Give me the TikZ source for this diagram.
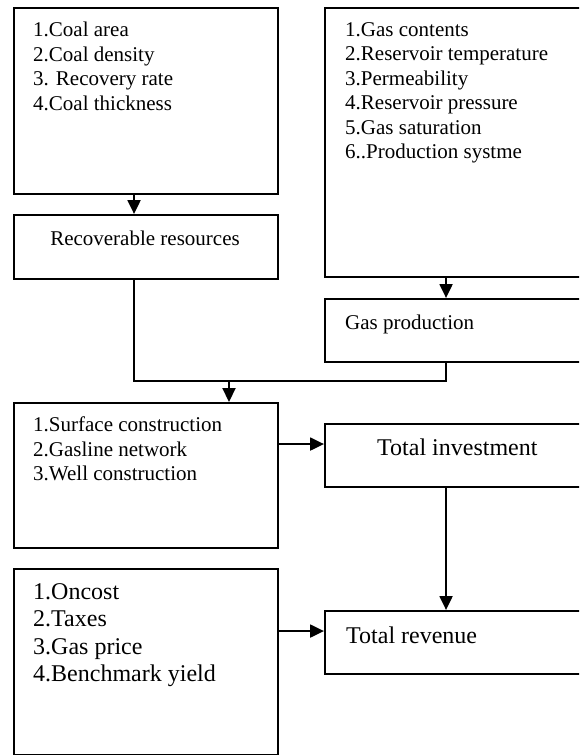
\documentclass[tikz,border=0pt]{standalone}
\usepackage{fontspec}
\setmainfont{Liberation Serif}
\usetikzlibrary{arrows.meta,positioning}

\tikzset{
  box/.style={draw, line width=2.1pt, anchor=north west, inner sep=0pt},
  list/.style={anchor=north west, align=left, inner sep=0pt, font=\fontsize{21}{24.5}\selectfont},
  biglist/.style={list, font=\fontsize{24}{27.5}\selectfont},
  title/.style={inner sep=0pt, font=\fontsize{21}{24.5}\selectfont},
  bigtitle/.style={inner sep=0pt, font=\fontsize{24}{27.5}\selectfont},
  flow/.style={line width=2.1pt, -{Triangle[length=14pt,width=13pt]}},
  joint/.style={line width=2.1pt},
}

\begin{document}
\begin{tikzpicture}[x=1pt,y=-1pt]
\useasboundingbox (0,0) rectangle (579,755);
\clip (0,0) rectangle (579,755);

% frames (the right column runs off the page)
\node[box, minimum width=264pt, minimum height=186pt] (coal) at (13,7) {};
\node[box, minimum width=264pt, minimum height=64pt] (recov) at (13,214) {};
\node[box, minimum width=300pt, minimum height=269pt] (gas) at (324,7) {};
\node[box, minimum width=300pt, minimum height=63pt] (prod) at (324,298) {};
\node[box, minimum width=264pt, minimum height=145pt] (surf) at (13,402) {};
\node[box, minimum width=300pt, minimum height=63pt] (invest) at (324,423) {};
\node[box, minimum width=264pt, minimum height=186pt] (oncost) at (13,568) {};
\node[box, minimum width=300pt, minimum height=63pt] (revenue) at (324,610) {};

% texts
\node[list] (coaltxt) at (33,22) {1.Coal area\\2.Coal density\\3. Recovery rate\\4.Coal thickness};
\node[title, anchor=base] (recovtxt) at (145,245) {Recoverable resources};
\node[list] (gastxt) at (345,22) {1.Gas contents\\2.Reservoir temperature\\3.Permeability\\4.Reservoir pressure\\5.Gas saturation\\6..Production systme};
\node[title, anchor=base west] (prodtxt) at (345,329) {Gas production};
\node[list] (surftxt) at (33,417) {1.Surface construction\\2.Gasline network\\3.Well construction};
\node[bigtitle, anchor=base west] (investtxt) at (377,455) {Total investment};
\node[biglist] (oncosttxt) at (33,583) {1.Oncost\\2.Taxes\\3.Gas price\\4.Benchmark yield};
\node[bigtitle, anchor=base west] (revenuetxt) at (346,643) {Total revenue};

% connectors
\coordinate (join) at (229,381);
\draw[flow] ([xshift=-12pt]coal.south) -- ([xshift=-12pt]recov.north);
\draw[flow] ([xshift=-29pt]gas.south) -- ([xshift=-29pt]prod.north);
\draw[joint] ([xshift=-12pt]recov.south) |- (join) -| ([xshift=-29pt]prod.south);
\draw[flow] (join) -- (join |- surf.north);
\draw[flow] ([yshift=31.5pt]surf.east) -- ([yshift=31.5pt]surf.east -| invest.west);
\draw[flow] ([xshift=-29pt]invest.south) -- ([xshift=-29pt]revenue.north);
\draw[flow] ([yshift=31pt]oncost.east) -- ([yshift=31pt]oncost.east -| revenue.west);
\end{tikzpicture}
\end{document}
